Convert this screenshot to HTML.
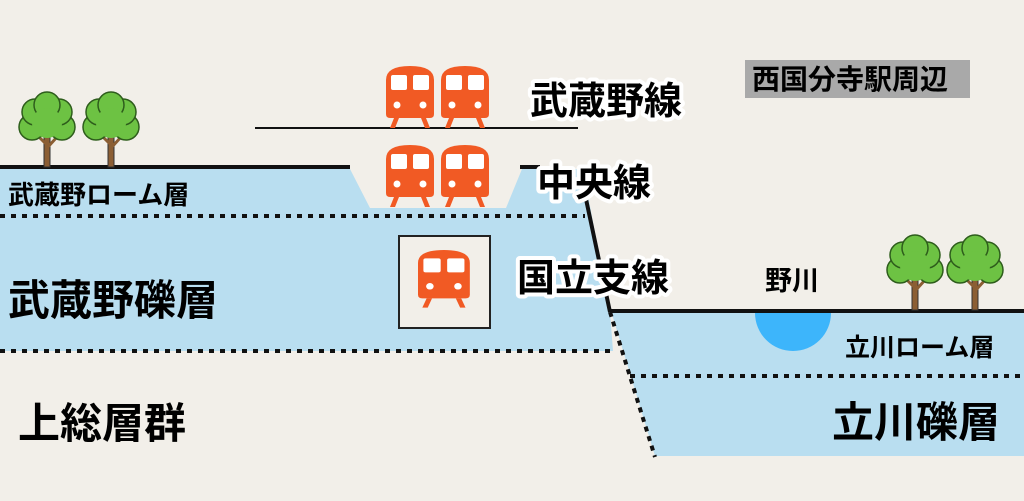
<!DOCTYPE html>
<html><head><meta charset="utf-8"><style>
html,body{margin:0;padding:0;background:#f2efe9;}
svg{display:block}
text{font-family:"Liberation Sans","Noto Sans CJK JP",sans-serif;font-weight:bold;}
.o{paint-order:stroke;stroke:#fff;stroke-width:8px;stroke-linejoin:round;}
</style></head><body>
<svg width="1024" height="501" viewBox="0 0 1024 501" xmlns="http://www.w3.org/2000/svg">
<defs>
<g id="tr">
<path d="M0,14 Q0,0 24,0 Q48,0 48,14 L48,48 Q48,52 44,52 L4,52 Q0,52 0,48Z" fill="#f15a24"/>
<rect x="5" y="9" width="16" height="15" rx="2" fill="#fff"/>
<rect x="27" y="9" width="16" height="15" rx="2" fill="#fff"/>
<circle cx="11" cy="39" r="3.5" fill="#fff"/><circle cx="37" cy="39" r="3.5" fill="#fff"/>
<path d="M8,52 L4,62 L9,62 L13,52Z M40,52 L44,62 L39,62 L35,52Z" fill="#f15a24"/>
</g>
<g id="tree">
<rect x="25" y="42" width="6" height="32" fill="#8b5e34" stroke="#333" stroke-width="1"/>
<path d="M28,52 L18,42 M28,55 L38,44" stroke="#8b5e34" stroke-width="3"/>
<g fill="#6dc243" stroke="#2e5d1c" stroke-width="1.5">
<circle cx="13" cy="34" r="13"/><circle cx="43" cy="34" r="13"/>
<circle cx="16" cy="19" r="13"/><circle cx="40" cy="19" r="13"/>
<circle cx="28" cy="12" r="13"/><circle cx="28" cy="30" r="15" stroke="none"/>
</g>
</g>
</defs>
<polygon points="0,169 350,169 370,208 506,208 522,169 583,169 610,312 613,351 0,351" fill="#b9def0"/>
<polygon points="611,311 1024,311 1024,456 655,456" fill="#b9def0"/>
<path d="M755,313 A38,38 0 0 0 831,313Z" fill="#3db5fb"/>
<line x1="0" y1="167" x2="350" y2="167" stroke="#111" stroke-width="4"/>
<line x1="520" y1="167" x2="540" y2="167" stroke="#111" stroke-width="4"/>
<line x1="255" y1="128" x2="578" y2="128" stroke="#111" stroke-width="2"/>
<line x1="583" y1="185" x2="610" y2="312" stroke="#111" stroke-width="4"/>
<line x1="610" y1="311" x2="1024" y2="311" stroke="#111" stroke-width="4"/>
<line x1="610" y1="312" x2="655" y2="457" stroke="#111" stroke-width="4" stroke-dasharray="5,5"/>
<line x1="0" y1="216" x2="585" y2="216" stroke="#111" stroke-width="4" stroke-dasharray="5,6"/>
<line x1="0" y1="351" x2="612" y2="351" stroke="#111" stroke-width="4" stroke-dasharray="5,6"/>
<line x1="630" y1="376" x2="1024" y2="376" stroke="#111" stroke-width="4" stroke-dasharray="5,6"/>
<rect x="399" y="236" width="91" height="92" fill="#f2efe9" stroke="#222" stroke-width="2"/>
<use href="#tr" x="386" y="66"/><use href="#tr" x="441" y="66"/>
<use href="#tr" x="386" y="145"/><use href="#tr" x="441" y="145"/>
<use href="#tr" transform="translate(418,250) scale(1.08,0.93)"/>
<use href="#tree" x="19" y="93"/><use href="#tree" x="83" y="93"/>
<use href="#tree" x="887" y="236"/><use href="#tree" x="947" y="236"/>
<text class="o" x="530" y="114" font-size="38">武蔵野線</text>
<text class="o" x="537" y="196" font-size="38">中央線</text>
<text class="o" x="517" y="291" font-size="38">国立支線</text>
<rect x="745" y="60" width="225" height="38" fill="#a9a9a9"/>
<text x="752" y="89" font-size="28">西国分寺駅周辺</text>
<text x="8" y="204" font-size="26">武蔵野ローム層</text>
<text x="8" y="315" font-size="42">武蔵野礫層</text>
<text x="18" y="438" font-size="42">上総層群</text>
<text x="765" y="290" font-size="27">野川</text>
<text x="845" y="356" font-size="25">立川ローム層</text>
<text x="832" y="437" font-size="42">立川礫層</text>
</svg>
</body></html>
